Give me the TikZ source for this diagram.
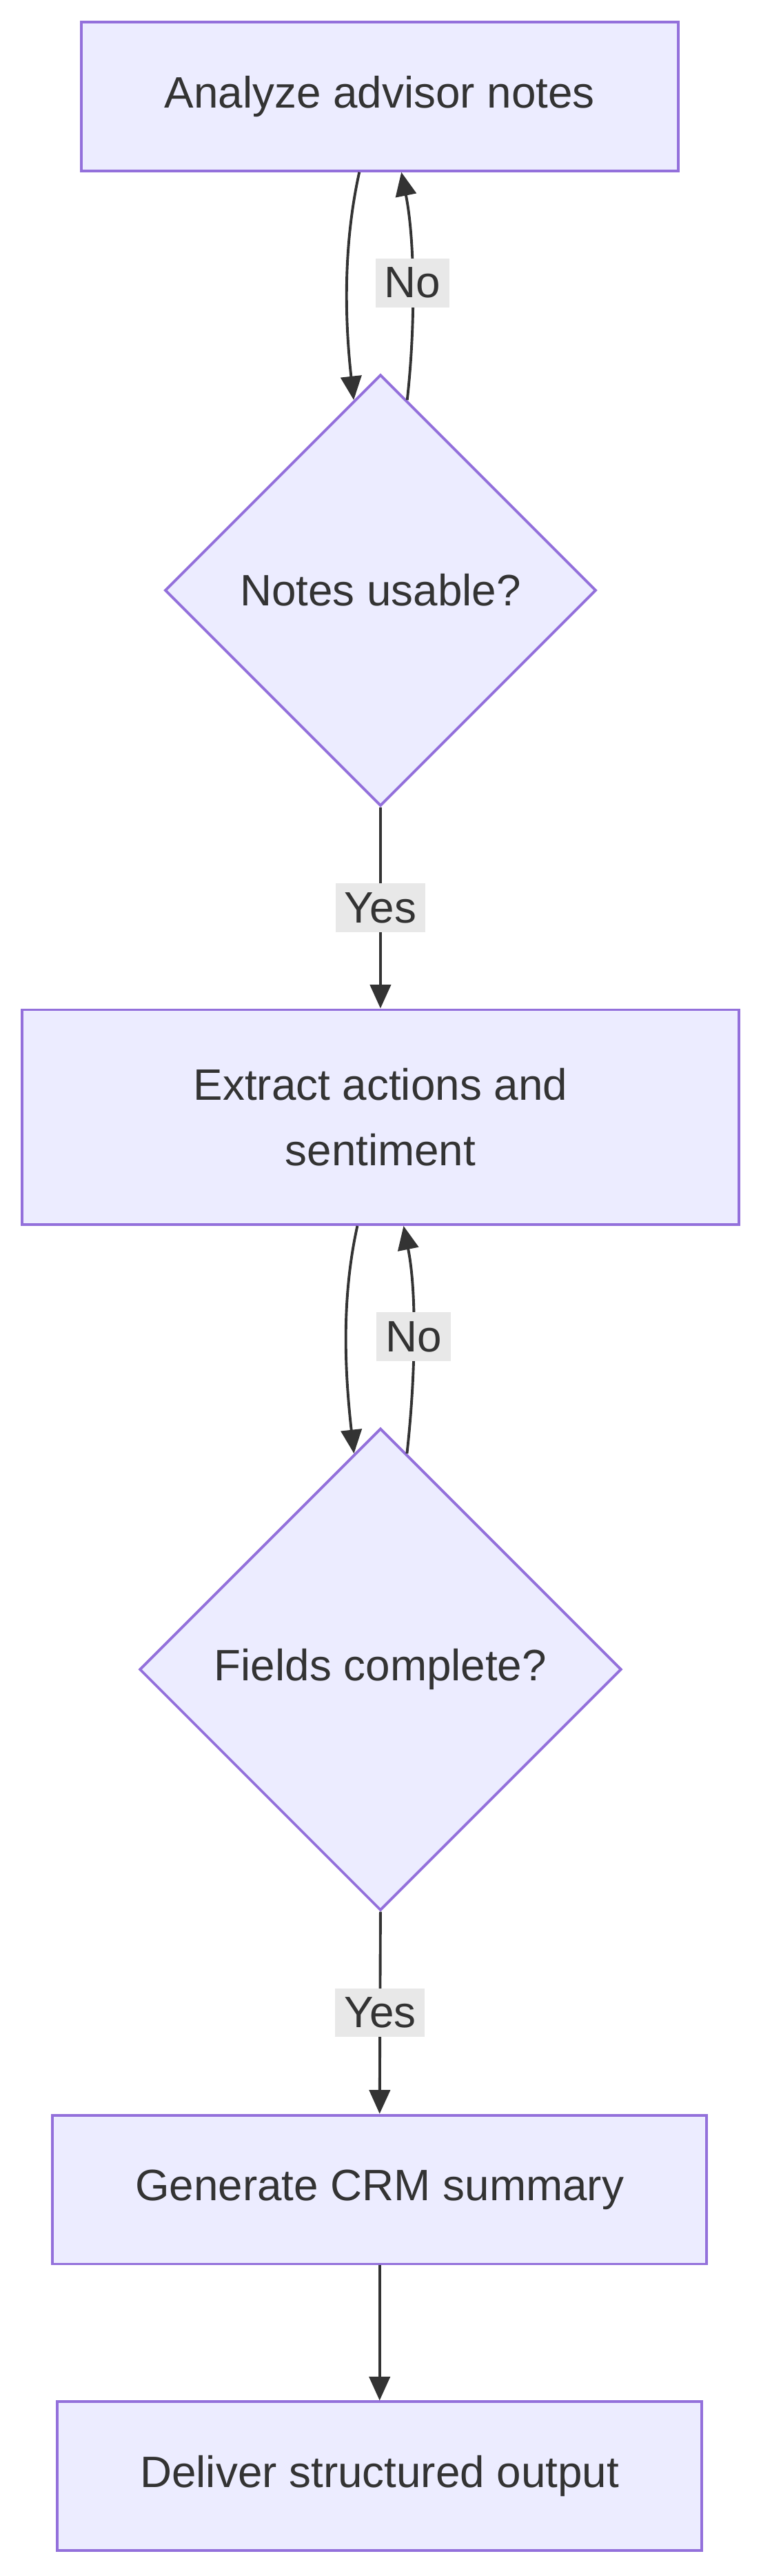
\documentclass[tikz,border=0pt]{standalone}
\usepackage{fontspec}
\setmainfont{Liberation Sans}
\usetikzlibrary{shapes.geometric,arrows.meta}
\definecolor{boxfill}{HTML}{ECECFF}
\definecolor{boxline}{HTML}{9370DB}
\definecolor{ink}{HTML}{333333}
\definecolor{lblbg}{HTML}{E8E8E8}
\tikzset{
  task/.style={rectangle, draw=boxline, fill=boxfill, line width=0.9pt, text=ink, align=center, inner sep=0pt},
  check/.style={diamond, draw=boxline, fill=boxfill, line width=0.9pt, text=ink, inner sep=0pt, aspect=1},
  arr/.style={draw=ink, line width=0.9pt, -{Triangle[length=8pt,width=7pt]}},
  lbl/.style={fill=lblbg, text=ink, inner sep=3pt, font=\fontsize{14.8}{17}\selectfont}
}
\begin{document}
\begin{tikzpicture}[x=0.02cm,y=-0.02cm, font=\fontsize{14.8}{22}\selectfont]
\useasboundingbox (0,0) rectangle (450,1523);

% Nodes
\node[task, minimum width=353*0.02cm, minimum height=88*0.02cm] (analyze) at (224.5,57) {Analyze advisor notes};
\node[check, minimum width=255*0.02cm, minimum height=255*0.02cm] (usable) at (225,349) {Notes usable?};
\node[task, minimum width=424*0.02cm, minimum height=127*0.02cm] (extract) at (225,660.5) {Extract actions and\\sentiment};
\node[check, minimum width=285*0.02cm, minimum height=285*0.02cm] (complete) at (225,987) {Fields complete?};
\node[task, minimum width=387*0.02cm, minimum height=88*0.02cm] (summary) at (224.5,1294.5) {Generate CRM summary};
\node[task, minimum width=381*0.02cm, minimum height=88*0.02cm] (deliver) at (224.5,1464) {Deliver structured output};

% Connectors
\draw[arr] (analyze.255) .. controls +(-10,45) and +(-5,-45) .. (usable.98);
\draw[arr] (usable.82) .. controls +(5,-45) and +(8,40) .. node[lbl, pos=0.5] {No} (analyze.286);
\draw[arr] (usable.south) -- node[lbl] {Yes} (extract.north);
\draw[arr] (extract.258) .. controls +(-10,45) and +(-5,-45) .. (complete.97);
\draw[arr] (complete.83) .. controls +(5,-45) and +(8,40) .. node[lbl, pos=0.5] {No} (extract.282);
\draw[arr] (complete.south) -- node[lbl] {Yes} (summary.north);
\draw[arr] (summary.south) -- (deliver.north);
\end{tikzpicture}
\end{document}
